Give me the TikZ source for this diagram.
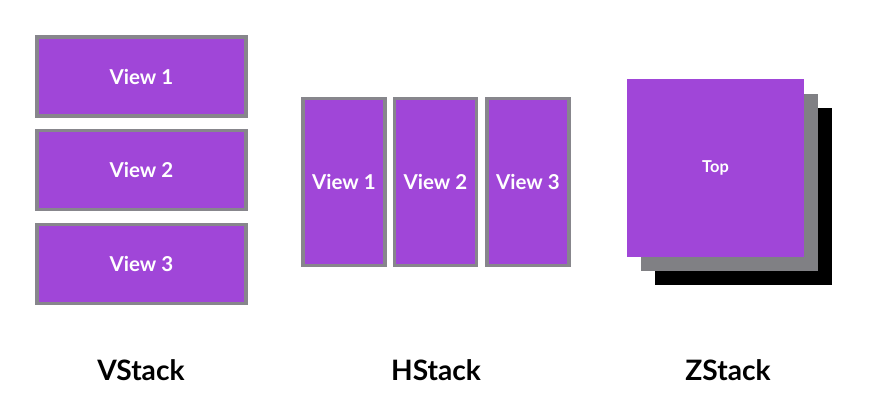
\documentclass[tikz,border=0pt]{standalone}
\usepackage{fontspec}
\setmainfont{Lato}
\usepackage{tikz}
\usetikzlibrary{positioning}
\usepackage{xcolor}
\definecolor{viewfill}{RGB}{160,70,216}
\definecolor{viewrule}{RGB}{135,134,140}
\definecolor{backgray}{RGB}{128,128,132}

\begin{document}
\begin{tikzpicture}[
  x=0.03cm, y=-0.03cm,
  view/.style={draw=viewrule, fill=viewfill, line width=3.4pt, inner sep=0pt,
    font=\bfseries\fontsize{17.5}{20}\selectfont, text=white},
  wide/.style={view, minimum width=6.27cm, minimum height=2.37cm},
  tall/.style={view, minimum width=2.46cm, minimum height=5.01cm},
  layer/.style={minimum width=5.31cm, minimum height=5.31cm, inner sep=0pt},
  caption/.style={font=\bfseries\fontsize{24}{28}\selectfont, text=black}
]
\useasboundingbox (0,0) rectangle (892,400);
\node[wide] (v1) at (141.5,76.5) {View 1};
\node[wide] (v2) at (141.5,170) {View 2};
\node[wide] (v3) at (141.5,264) {View 3};
\node[tall] (h1) at (344,182) {View 1};
\node[tall] (h2) at (435.5,182) {View 2};
\node[tall] (h3) at (528,182) {View 3};
\node[layer, fill=black] (zb) at (743.5,196.5) {};
\node[layer, fill=backgray] (zm) at (729.5,182.5) {};
\node[layer, fill=viewfill, text=white, font=\bfseries\fontsize{14}{16}\selectfont] (zt) at (715.5,168) {Top};
\node[caption] (vs) at (141,370) {VStack};
\node[caption] (hs) at (436,370) {HStack};
\node[caption] (zs) at (728,370) {ZStack};
\end{tikzpicture}
\end{document}
